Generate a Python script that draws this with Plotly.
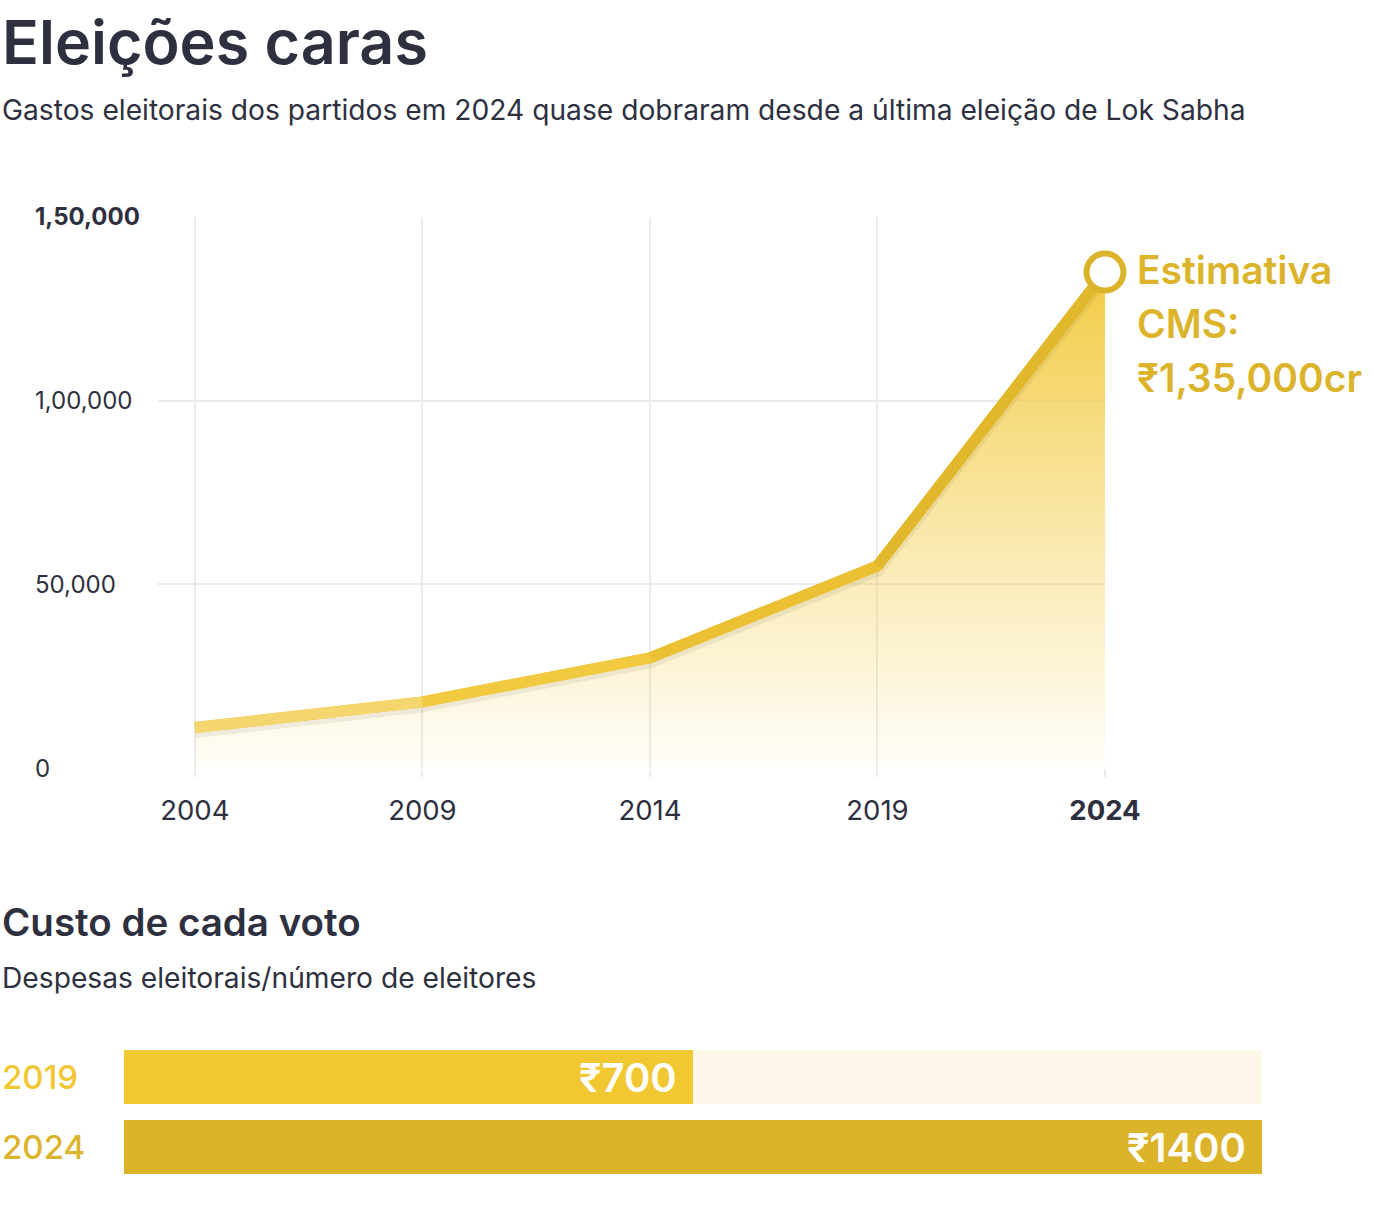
import plotly.graph_objects as go

# ---------------- data ----------------
years = [2004, 2009, 2014, 2019, 2024]
spend = [11000, 18000, 30000, 55000, 135000]
year_labels = ["2004", "2009", "2014", "2019", "<b>2024</b>"]
y_ticks = [0, 50000, 100000, 150000]
y_tick_labels = ["0", "50,000", "1,00,000", "<b>1,50,000</b>"]
seg_colors = ["#f5d66e", "#f1ca40", "#ebc133", "#e1b72c"]
callout_lines = ["Estimativa", "CMS:", "₹1,35,000cr"]

vote_years = ["2019", "2024"]
vote_cost = [700, 1400]
vote_labels = ["₹700", "₹1400"]
vote_colors = ["#f2c832", "#dcb42b"]

W, H = 1400, 1218
DARK = "#2e303f"
FONT = "Inter"


def px_x(p):
    return p / W


def px_y(p):
    return 1 - p / H


fig = go.Figure()

# area fill with vertical gradient
fig.add_trace(go.Scatter(
    x=years, y=spend, mode="lines", line=dict(width=0),
    fill="tozeroy",
    fillgradient=dict(type="vertical",
                      colorscale=[[0, "rgba(242,201,59,0.03)"],
                                  [0.5, "rgba(242,201,59,0.45)"],
                                  [1, "rgba(242,201,59,0.95)"]],
                      start=0, stop=max(spend)),
    hoverinfo="skip", showlegend=False, xaxis="x", yaxis="y"))

# soft shadow under line
fig.add_trace(go.Scatter(
    x=years, y=[v - 1100 for v in spend], mode="lines",
    line=dict(width=13, color="rgba(110,100,70,0.10)"),
    hoverinfo="skip", showlegend=False, xaxis="x", yaxis="y"))

# base line
fig.add_trace(go.Scatter(
    x=years, y=spend, mode="lines",
    line=dict(width=11, color="#ecc336"),
    hoverinfo="skip", showlegend=False, xaxis="x", yaxis="y"))

# gradient segments
for i in range(len(years) - 1):
    fig.add_trace(go.Scatter(
        x=years[i:i + 2], y=spend[i:i + 2], mode="lines",
        line=dict(width=11, color=seg_colors[i]),
        hoverinfo="skip", showlegend=False, xaxis="x", yaxis="y"))

# end marker
fig.add_trace(go.Scatter(
    x=[years[-1]], y=[spend[-1]], mode="markers",
    marker=dict(size=37, color="white", line=dict(width=6, color="#dcb42b")),
    hoverinfo="skip", showlegend=False, xaxis="x", yaxis="y", cliponaxis=False))

# ---------------- bars ----------------
vote_pos = list(range(len(vote_years)))
fig.add_trace(go.Bar(
    y=vote_pos, x=[max(vote_cost)] * len(vote_years), orientation="h",
    marker=dict(color="#fdf7ea", line=dict(width=0)), width=0.77,
    hoverinfo="skip", showlegend=False, xaxis="x2", yaxis="y2"))
fig.add_trace(go.Bar(
    y=vote_pos, x=vote_cost, orientation="h",
    marker=dict(color=vote_colors, line=dict(width=0)), width=0.77,
    hoverinfo="skip", showlegend=False, xaxis="x2", yaxis="y2"))

annotations = []
# y tick labels (left aligned)
for v, t in zip(y_ticks, y_tick_labels):
    annotations.append(dict(
        x=px_x(33), xref="paper", xanchor="left", y=v, yref="y", yanchor="middle",
        text=t, showarrow=False, font=dict(family=FONT, size=24, color=DARK)))

# end callout
for line_txt, shift in zip(callout_lines, [3, -51, -105]):
    annotations.append(dict(
        x=px_x(1135), xref="paper", xanchor="left", y=spend[-1], yref="y",
        yanchor="middle", yshift=shift,
        text=line_txt, showarrow=False,
        font=dict(family=FONT, size=39, color="#dcb42b", weight=600)))

# bar category labels and value labels
for p, yr, c, v, lab in zip(vote_pos, vote_years, vote_colors, vote_cost, vote_labels):
    annotations.append(dict(
        x=0, xref="paper", xanchor="left", y=p, yref="y2", yanchor="middle",
        text=yr, showarrow=False, font=dict(family=FONT, size=33, color=c, weight=500)))
    annotations.append(dict(
        x=v, xref="x2", xanchor="right", xshift=-14, y=p, yref="y2", yanchor="middle",
        text=lab, showarrow=False, font=dict(family=FONT, size=40, color="white", weight=600)))

# titles
annotations += [
    dict(x=0, xref="paper", xanchor="left", y=px_y(42), yref="paper", yanchor="middle",
         text="Eleições caras", showarrow=False,
         font=dict(family=FONT, size=61, color=DARK, weight=600)),
    dict(x=0, xref="paper", xanchor="left", y=px_y(110), yref="paper", yanchor="middle",
         text="Gastos eleitorais dos partidos em 2024 quase dobraram desde a última eleição de Lok Sabha",
         showarrow=False, font=dict(family=FONT, size=28.2, color=DARK)),
    dict(x=0, xref="paper", xanchor="left", y=px_y(922), yref="paper", yanchor="middle",
         text="Custo de cada voto", showarrow=False,
         font=dict(family=FONT, size=38.5, color=DARK, weight=600)),
    dict(x=0, xref="paper", xanchor="left", y=px_y(978), yref="paper", yanchor="middle",
         text="Despesas eleitorais/número de eleitores", showarrow=False,
         font=dict(family=FONT, size=28.2, color=DARK)),
]

GRID = "#ebebeb"
fig.update_layout(
    width=W, height=H, autosize=False,
    margin=dict(l=0, r=0, t=0, b=0, autoexpand=False),
    paper_bgcolor="white", plot_bgcolor="white",
    font=dict(family=FONT, color=DARK),
    barmode="overlay", showlegend=False,
    xaxis=dict(domain=[px_x(158), px_x(1105)], range=[2003.19, 2024],
               tickvals=years, ticktext=year_labels,
               showgrid=True, gridcolor=GRID, gridwidth=2,
               ticks="outside", ticklen=8, tickcolor=GRID, tickwidth=2,
               showline=False, zeroline=False, automargin=False,
               tickfont=dict(family=FONT, size=27.5, color=DARK),
               ticklabelstandoff=10, fixedrange=True),
    yaxis=dict(domain=[px_y(768), px_y(217)], range=[0, 150000],
               tickvals=y_ticks, showticklabels=False, automargin=False,
               showgrid=True, gridcolor=GRID, gridwidth=2,
               zeroline=False, showline=False, fixedrange=True),
    xaxis2=dict(domain=[px_x(124), px_x(1262)], range=[0, max(vote_cost)],
                visible=False, fixedrange=True, automargin=False),
    yaxis2=dict(domain=[px_y(1182), px_y(1042)], range=[len(vote_pos) - 0.5, -0.5],
                visible=False, fixedrange=True, automargin=False),
    annotations=annotations,
)

fig.write_html(
    "out.html",
    config={"responsive": False, "displayModeBar": False},
    default_width="1400px", default_height="1218px",
    post_script="document.body.style.margin='0';document.body.style.overflow='hidden';",
)
